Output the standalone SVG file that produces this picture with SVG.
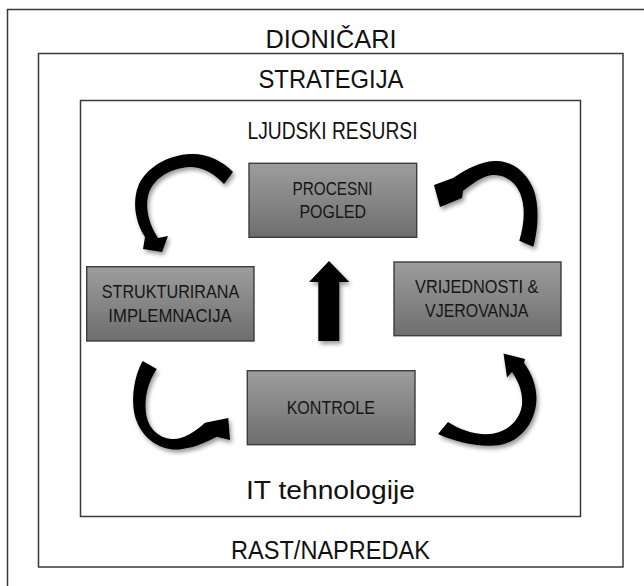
<svg xmlns="http://www.w3.org/2000/svg" width="644" height="586" viewBox="0 0 644 586">
<defs>
<linearGradient id="boxGrad" x1="0" y1="0" x2="0" y2="1">
<stop offset="0" stop-color="#9d9d9d"/>
<stop offset="1" stop-color="#6e6e6e"/>
</linearGradient>
<filter id="shadow" x="-30%" y="-30%" width="160%" height="160%">
<feDropShadow dx="2" dy="3" stdDeviation="2" flood-color="#000" flood-opacity="0.4"/>
</filter>
<style>
.frame{fill:none;stroke:#3a3a3a;stroke-width:1.5}
.box{fill:url(#boxGrad);stroke:#3c3c3c;stroke-width:1.4}
.title{font-family:"Liberation Sans",Arial,sans-serif;fill:#111;text-anchor:middle}
.lbl{font-family:"Liberation Sans",Arial,sans-serif;font-size:18px;fill:#151515;text-anchor:middle}
.arr{fill:#050505;filter:url(#shadow)}
</style>
</defs>
<rect width="644" height="586" fill="#fff"/>

<g id="frame-dionicari">
<rect class="frame" x="7.5" y="9.5" width="660" height="620"/>
<text class="title" x="331" y="48" font-size="25" textLength="131" lengthAdjust="spacingAndGlyphs">DIONIČARI</text>
</g>

<g id="frame-strategija">
<rect class="frame" x="38.5" y="53.5" width="584.5" height="513.5"/>
<text class="title" x="331" y="88" font-size="25" textLength="145" lengthAdjust="spacingAndGlyphs">STRATEGIJA</text>
<text class="title" x="330.5" y="559" font-size="25" textLength="199" lengthAdjust="spacingAndGlyphs">RAST/NAPREDAK</text>
</g>

<g id="frame-ljudski-resursi">
<rect class="frame" x="80.5" y="100.5" width="500" height="416"/>
<text class="title" x="332.5" y="139" font-size="24" textLength="170" lengthAdjust="spacingAndGlyphs">LJUDSKI RESURSI</text>
<text class="title" x="330.5" y="499" font-size="26" textLength="169" lengthAdjust="spacingAndGlyphs">IT tehnologije</text>
</g>

<g id="node-procesni">
<rect class="box" x="249" y="163.3" width="167.7" height="74"/>
<text class="lbl" x="332.5" y="195" textLength="80" lengthAdjust="spacingAndGlyphs">PROCESNI</text>
<text class="lbl" x="332.7" y="218.3" textLength="66.5" lengthAdjust="spacingAndGlyphs">POGLED</text>
</g>

<g id="node-strukturirana">
<rect class="box" x="86.7" y="266.7" width="167.3" height="74.3"/>
<text class="lbl" x="170.5" y="298.3" textLength="137.5" lengthAdjust="spacingAndGlyphs">STRUKTURIRANA</text>
<text class="lbl" x="170" y="321.7" textLength="123.3" lengthAdjust="spacingAndGlyphs">IMPLEMNACIJA</text>
</g>

<g id="node-vrijednosti">
<rect class="box" x="394" y="262" width="167" height="73.7"/>
<text class="lbl" x="476.7" y="293.3" textLength="123.3" lengthAdjust="spacingAndGlyphs">VRIJEDNOSTI &amp;</text>
<text class="lbl" x="476.7" y="316.7" textLength="103.3" lengthAdjust="spacingAndGlyphs">VJEROVANJA</text>
</g>

<g id="node-kontrole">
<rect class="box" x="247.3" y="370.7" width="167.7" height="74"/>
<text class="lbl" x="330.8" y="414" textLength="88.3" lengthAdjust="spacingAndGlyphs">KONTROLE</text>
</g>

<g id="connectors">
<path class="arr" d="M233,172 C222,160 205,153 190,154 C170,155 150,165 140,182 C132,198 134,220 145,237 L143,249 L162,252 L168,236 L158,238 C150,226 145,210 148,196 C152,180 168,168 190,167 C203,167 215,174 224,184 Z"/>
<path class="arr" d="M533.3,246.7 C538,230 540,205 533,188 C525,170 510,160 494,161 C480,162 468,168 453,178 L434,185 L440,207 L462,198 L463,191 C472,184 482,176 492,175 C505,174 515,182 520,193 C526,208 524,225 519.3,240.7 Z"/>
<path class="arr" d="M142.7,361 C133,378 130,405 137,422 C145,442 165,452 182,449 C197,447 208,441 216.7,436.7 L230,440 L228.3,418 L205,422.7 C195,432 182,440 172,439 C158,438 148,428 146,413 C144,398 148,382 156.7,369 Z"/>
<path class="arr" d="M438,434 C455,442 480,448 500,445 C520,441 533,425 536,405 C538,390 533,375 524,363 L525,359 L503.5,353.5 L507,377.5 L512,372 C519,382 523,393 522,405 C520,420 508,432 490,434 C475,435 460,430 448,422 Z"/>
<polygon class="arr" points="318.3,341 318.3,282 309,282 329,261 349.3,282 339.3,282 339.3,341"/>
</g>
</svg>
